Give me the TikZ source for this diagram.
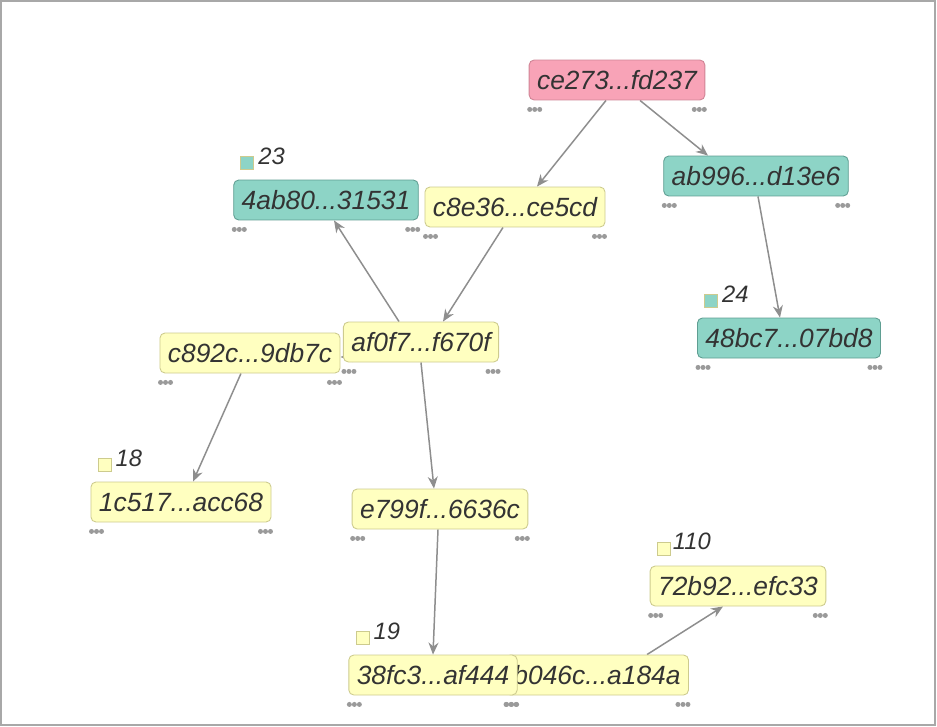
\documentclass[tikz,border=0pt]{standalone}
\usepackage{fontspec}
\setmainfont{Liberation Sans}
\usetikzlibrary{arrows.meta, calc, backgrounds}

\definecolor{pinkfill}{HTML}{F8A3B7}
\definecolor{pinkdraw}{HTML}{CF8495}
\definecolor{yelfill}{HTML}{FFFFC0}
\definecolor{yeldraw}{HTML}{CDCB8E}
\definecolor{tealfill}{HTML}{8DD4C6}
\definecolor{tealdraw}{HTML}{5F9E92}
\definecolor{txtgray}{HTML}{333333}
\definecolor{edgegray}{HTML}{8E8E8E}
\definecolor{dotgray}{HTML}{9A9A9A}
\definecolor{framegray}{HTML}{A8A8A8}

\begin{document}
\begin{tikzpicture}[x=0.02cm, y=-0.02cm,
    >={Stealth[length=0.24cm, width=0.2cm]},
    hash/.style={draw, rounded corners=0.1cm, minimum height=0.8cm,
                 inner xsep=0.16cm, text=txtgray, line width=0.5pt,
                 font=\fontsize{15}{17}\selectfont\itshape},
    yelbox/.style={hash, fill=yelfill, draw=yeldraw},
    tealbox/.style={hash, fill=tealfill, draw=tealdraw},
    pinkbox/.style={hash, fill=pinkfill, draw=pinkdraw},
    edge/.style={->, draw=edgegray, line width=0.85pt},
    tag/.style={draw=yeldraw, minimum size=0.26cm, inner sep=0pt},
    taglabel/.style={anchor=west, inner sep=0pt, text=txtgray,
                     font=\fontsize{13.5}{16}\selectfont\itshape}]

  % frame
  \useasboundingbox (0,0) rectangle (937,727);
  \draw[framegray, line width=1.2pt] (1,1) rectangle (935,725);

  % hash nodes
  \node[pinkbox] (nce273) at (617,80) {ce273...fd237};
  \node[tealbox] (nab996) at (756,176) {ab996...d13e6};
  \node[tealbox] (n4ab80) at (326,200) {4ab80...31531};
  \node[yelbox]  (nc8e36) at (515,207) {c8e36...ce5cd};
  \node[yelbox]  (naf0f7) at (421,342) {af0f7...f670f};
  \node[yelbox]  (nc892c) at (250,353) {c892c...9db7c};
  \node[tealbox] (n48bc7) at (789,338) {48bc7...07bd8};
  \node[yelbox]  (n1c517) at (181,502) {1c517...acc68};
  \node[yelbox]  (ne799f) at (440,509) {e799f...6636c};
  \node[yelbox]  (n72b92) at (738,586) {72b92...efc33};
  \node[yelbox]  (nb046c) at (597,675) {b046c...a184a};
  \node[yelbox]  (n38fc3) at (433,675) {38fc3...af444};

  % three dots under each corner
  \foreach \n in {nce273, nab996, n4ab80, nc8e36, naf0f7, nc892c,
                  n48bc7, n1c517, ne799f, n72b92, nb046c, n38fc3} {
    \foreach \d in {1, 6, 11} {
      \fill[dotgray] ($(\n.south west)+(\d,9)$) circle (0.05cm);
      \fill[dotgray] ($(\n.south east)+(-\d,9)$) circle (0.05cm);
    }
  }

  % numbered tags
  \node[tag, fill=tealfill] (m23) at ($(n4ab80.north west)+(14,-17)$) {};
  \node[taglabel] at ($(m23.east)+(4,-6)$) {23};
  \node[tag, fill=tealfill] (m24) at ($(n48bc7.north west)+(14,-17)$) {};
  \node[taglabel] at ($(m24.east)+(4,-6)$) {24};
  \node[tag, fill=yelfill] (m18) at ($(n1c517.north west)+(14,-17)$) {};
  \node[taglabel] at ($(m18.east)+(4,-6)$) {18};
  \node[tag, fill=yelfill] (m19) at ($(n38fc3.north west)+(14,-17)$) {};
  \node[taglabel] at ($(m19.east)+(4,-6)$) {19};
  \node[tag, fill=yelfill] (m110) at ($(n72b92.north west)+(14,-17)$) {};
  \node[taglabel] at ($(m110.east)+(2,-7)$) {110};

  % links
  \begin{scope}[on background layer]
    \draw[edge] ($(nce273.south)+(-11,0)$) -- ($(nc8e36.north)+(22,0)$);
    \draw[edge] ($(nce273.south)+(23,0)$) -- ($(nab996.north)+(-48,0)$);
    \draw[edge] ($(nab996.south)+(2,0)$) -- ($(n48bc7.north)+(-9,0)$);
    \draw[edge] ($(nc8e36.south)+(-12,0)$) -- ($(naf0f7.north)+(22,0)$);
    \draw[edge] ($(naf0f7.north)+(-22,0)$) -- ($(n4ab80.south)+(8,0)$);
    \draw[edge] ($(naf0f7.west)+(6,15)$) -- ($(nc892c.east)+(0,4)$);
    \draw[edge] ($(nc892c.south)+(-9,0)$) -- ($(n1c517.north)+(12,0)$);
    \draw[edge] (naf0f7.south) -- ($(ne799f.north)+(-6,0)$);
    \draw[edge] ($(ne799f.south)+(-2,0)$) -- (n38fc3.north);
    \draw[edge] ($(nb046c.north)+(50,0)$) -- ($(n72b92.south)+(-15,0)$);
  \end{scope}
\end{tikzpicture}
\end{document}
